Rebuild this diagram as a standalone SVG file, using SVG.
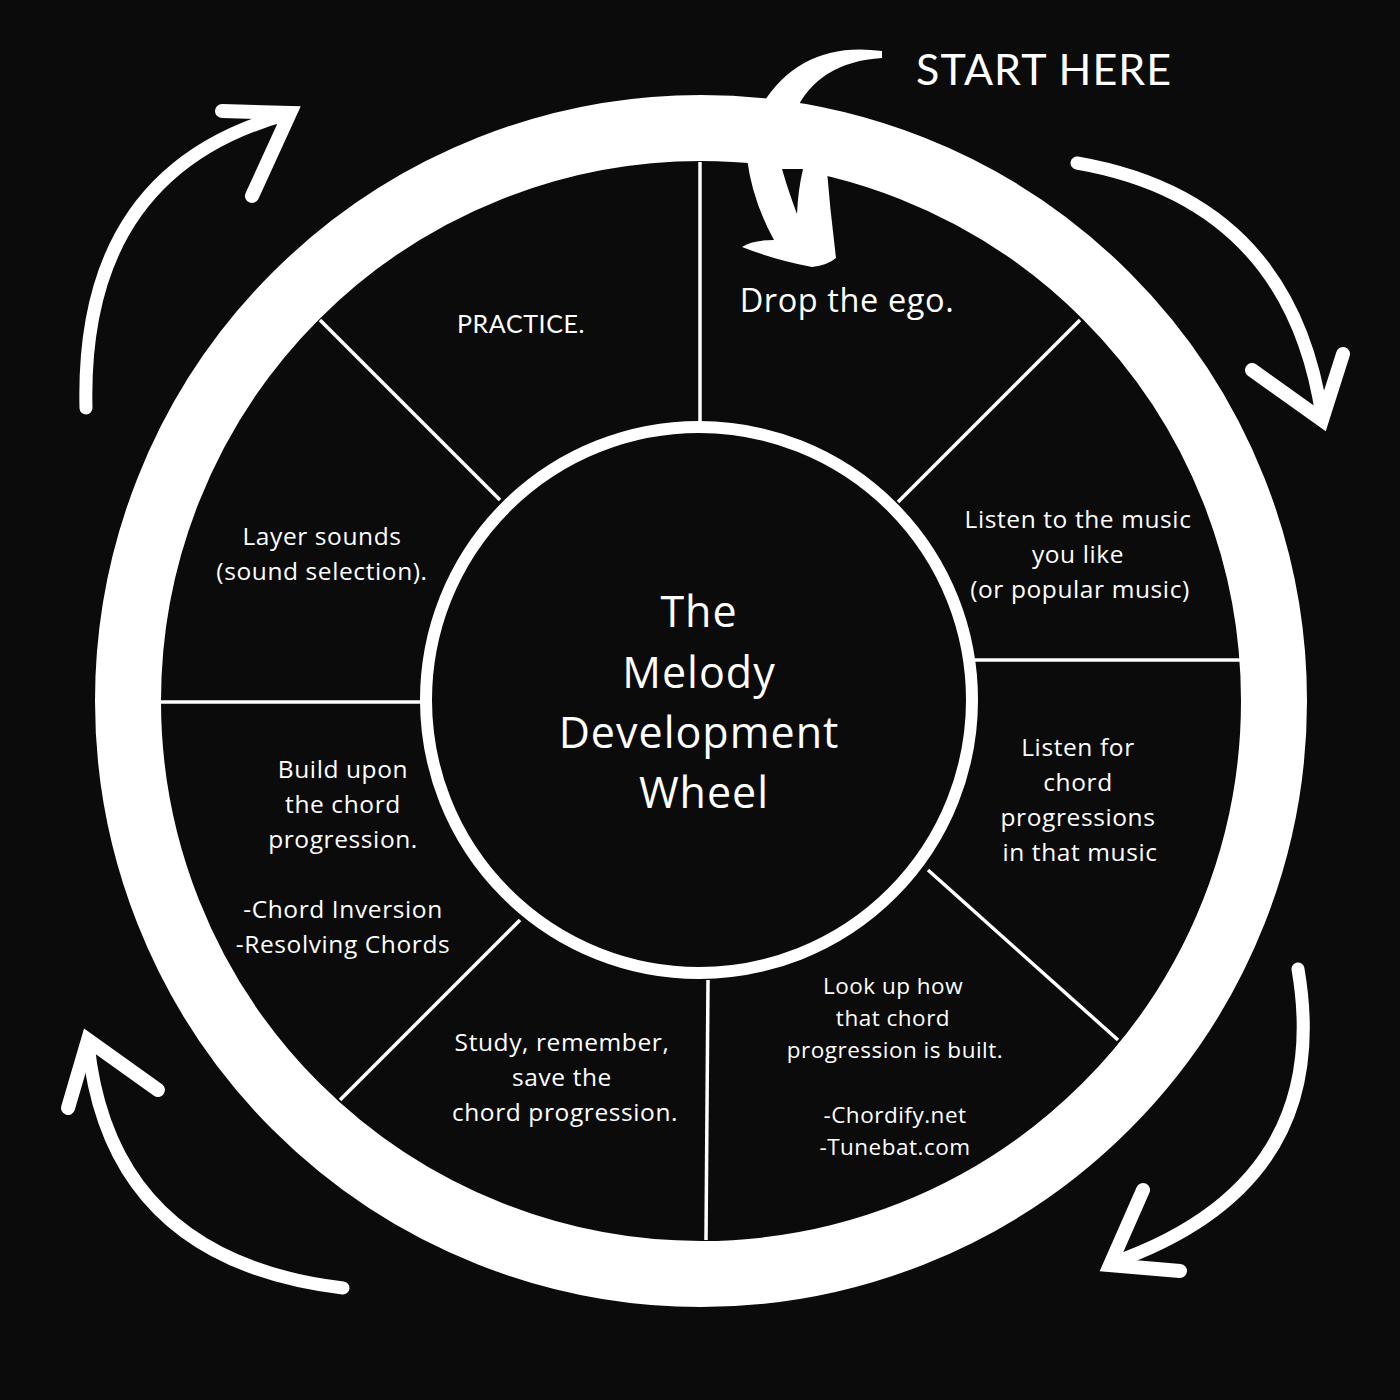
<svg xmlns="http://www.w3.org/2000/svg" width="1400" height="1400" viewBox="0 0 1400 1400">
<style>
.bg{fill:#0b0b0b}
.ring{fill:none;stroke:#fff;stroke-width:66}
.hub{fill:#0b0b0b;stroke:#fff;stroke-width:12}
.div{stroke:#fff;stroke-width:3.5;fill:none}
.arc{fill:none;stroke:#fff;stroke-width:13;stroke-linecap:round}
.barb{fill:none;stroke:#fff;stroke-width:14;stroke-linecap:round}
.fill{fill:#fff}
text{fill:#fff;font-family:"Open Sans","Noto Sans",sans-serif;text-anchor:middle}
.seg{font-size:24.5px;letter-spacing:0.6px}
.small{font-size:22.5px;letter-spacing:0.5px}
.title{font-size:43px;letter-spacing:1px}
.lato{font-family:Lato,"Open Sans",sans-serif}
</style>
<rect class="bg" x="0" y="0" width="1400" height="1400"/>

<g id="wheel">
  <circle class="ring" cx="701" cy="701" r="573"/>
  <line class="div" x1="700" y1="162" x2="700" y2="422"/>
  <line class="div" x1="320" y1="320" x2="500" y2="500"/>
  <line class="div" x1="1080" y1="320" x2="898" y2="502"/>
  <line class="div" x1="975" y1="660" x2="1240" y2="660"/>
  <line class="div" x1="160" y1="702" x2="422" y2="702"/>
  <line class="div" x1="928" y1="870" x2="1118" y2="1040"/>
  <line class="div" x1="708" y1="980" x2="706" y2="1240"/>
  <line class="div" x1="520" y1="920" x2="340" y2="1100"/>
</g>

<g id="hub">
  <circle class="hub" cx="699" cy="700" r="273"/>
  <text class="title" x="699" y="627">The</text>
  <text class="title" x="699" y="688">Melody</text>
  <text class="title" x="699" y="748">Development</text>
  <text class="title" x="704" y="808">Wheel</text>
</g>

<g id="seg-drop-ego">
  <text x="847" y="312" font-size="32.5" letter-spacing="0.6">Drop the ego.</text>
</g>
<g id="seg-listen-music">
  <text class="seg" x="1078" y="528">Listen to the music</text>
  <text class="seg" x="1078" y="563">you like</text>
  <text class="seg" x="1080" y="598">(or popular music)</text>
</g>
<g id="seg-listen-chords">
  <text class="seg" x="1078" y="756">Listen for</text>
  <text class="seg" x="1078" y="791">chord</text>
  <text class="seg" x="1078" y="826">progressions</text>
  <text class="seg" x="1080" y="861">in that music</text>
</g>
<g id="seg-look-up">
  <text class="small" x="893" y="994">Look up how</text>
  <text class="small" x="893" y="1026">that chord</text>
  <text class="small" x="895" y="1058">progression is built.</text>
  <text class="small" x="895" y="1123">-Chordify.net</text>
  <text class="small" x="895" y="1155">-Tunebat.com</text>
</g>
<g id="seg-study">
  <text class="seg" x="562" y="1051">Study, remember,</text>
  <text class="seg" x="562" y="1086">save the</text>
  <text class="seg" x="565" y="1121">chord progression.</text>
</g>
<g id="seg-build">
  <text class="seg" x="343" y="778">Build upon</text>
  <text class="seg" x="343" y="813">the chord</text>
  <text class="seg" x="343" y="848">progression.</text>
  <text class="seg" x="343" y="918">-Chord Inversion</text>
  <text class="seg" x="343" y="953">-Resolving Chords</text>
</g>
<g id="seg-layer">
  <text class="seg" x="322" y="545">Layer sounds</text>
  <text class="seg" x="322" y="580">(sound selection).</text>
</g>
<g id="seg-practice">
  <text class="lato" x="521" y="333" font-size="25" letter-spacing="0.6">PRACTICE.</text>
</g>
<g id="start-label">
  <text class="lato" x="916" y="85" font-size="43" letter-spacing="1.1" style="text-anchor:start">START HERE</text>
</g>

<g id="connectors">
  <!-- start arrow -->
  <path class="fill" d="M882,51 Q800,40 760,108 L795,112 Q818,62 882,58 Z"/>
  <path class="fill" d="M747,158 Q752,200 774,240 Q752,240 742,247 Q775,260 812,267 Q828,265 836,258 Q830,210 826,160 Z"/>
  <path class="bg" d="M782,169 L803,169 Q798,190 797,214 Q788,190 782,169 Z"/>
  <!-- top right -->
  <path class="arc" d="M1077,163 Q1290,200 1322,416"/>
  <path class="barb" d="M1252,370 L1322,420 L1343,354"/>
  <!-- top left -->
  <path class="arc" d="M86,408 Q80,170 288,114"/>
  <path class="barb" d="M222,111 L290,113 L252,196"/>
  <!-- bottom left -->
  <path class="arc" d="M343,1288 Q110,1260 88,1044"/>
  <path class="barb" d="M68,1108 L88,1040 L158,1090"/>
  <!-- bottom right -->
  <path class="arc" d="M1298,969 Q1335,1185 1112,1263"/>
  <path class="barb" d="M1143,1190 L1110,1265 L1180,1271"/>
</g>
</svg>
